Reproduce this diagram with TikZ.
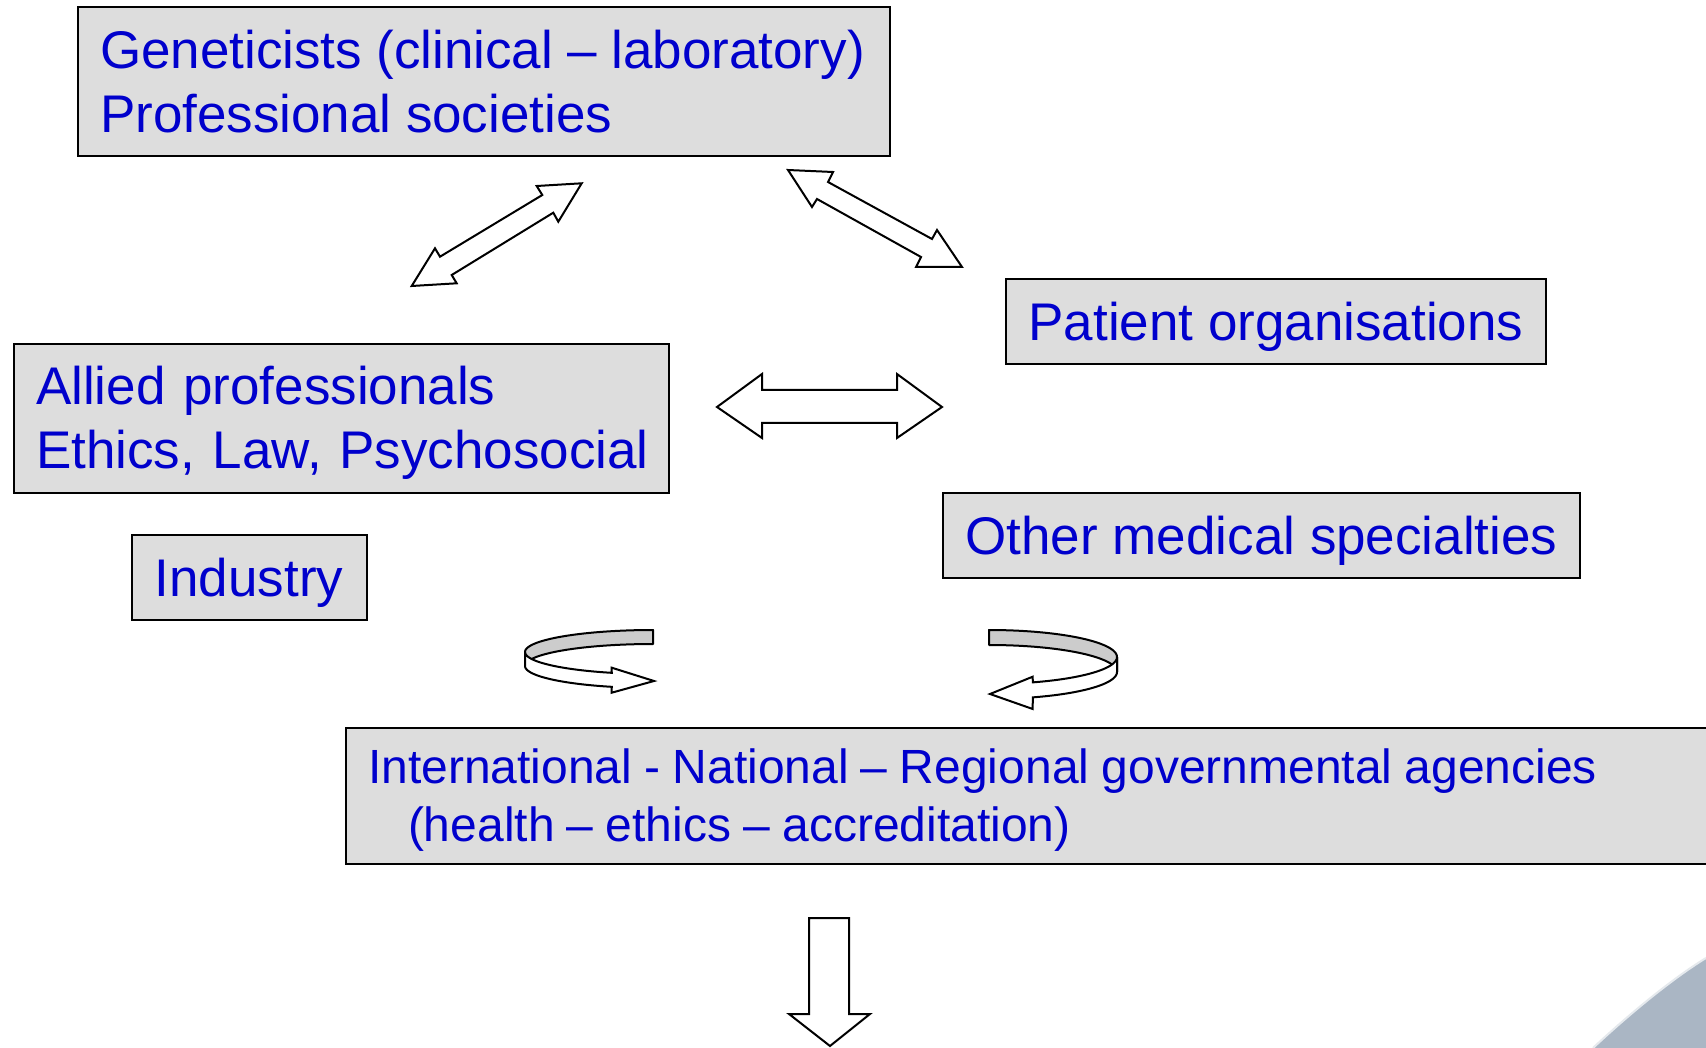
\documentclass[tikz,border=0pt]{standalone}
\usepackage{fontspec}
\setmainfont{Liberation Sans}
\definecolor{txtblue}{RGB}{0,0,204}
\definecolor{boxgray}{RGB}{221,221,221}
\definecolor{ribbongray}{RGB}{204,204,204}
\definecolor{cornerblue}{RGB}{170,182,196}
\newcommand{\bs}{\rule[-11pt]{0pt}{59pt}}
\newcommand{\ms}{\rule[-10pt]{0pt}{53.5pt}}
\begin{document}
\begin{tikzpicture}[x=1pt,y=-1pt,
  box/.style={draw=black, line width=2pt, fill=boxgray, text=txtblue, inner sep=0pt, anchor=north west},
  multi/.style={align=left},
  bigfont/.style={font=\fontsize{53}{64}\selectfont},
  midfont/.style={font=\fontsize{48}{58}\selectfont},
  blockarrow/.style={draw=black, line width=2pt, fill=white, line join=miter},
  ribbonback/.style={draw=black, line width=2pt, fill=ribbongray, line join=round},
  ribbonfront/.style={draw=black, line width=2pt, fill=white, line join=miter}
]
\useasboundingbox (0,0) rectangle (1706,1048);
\clip (0,0) rectangle (1706,1048);
\fill[white] (0,0) rectangle (1706,1048);
% corner decoration
\fill[cornerblue] (1593,1048) .. controls (1625,1018) and (1670,980) .. (1706,958) -- (1712,958) -- (1712,1054) -- (1593,1054) -- cycle;
\draw[white!70!cornerblue, line width=2pt] (1593,1048) .. controls (1625,1018) and (1670,980) .. (1706,958);

% boxes
\node[box, multi, bigfont, minimum width=812pt, minimum height=149pt, text width=768pt, inner xsep=22pt] (gen) at (77,6.5)
  {\spaceskip=0.98\fontdimen2\font\relax\mbox{\bs Geneticists (clinical – laboratory)}\\\mbox{\bs Professional societies}};
\node[box, multi, bigfont, minimum width=655pt, minimum height=149pt, text width=611pt, inner xsep=22pt] (allied) at (13,343)
  {\mbox{\bs Allied professionals}\\\mbox{\bs Ethics, Law, Psychosocial}};
\node[box, bigfont, minimum width=540pt, minimum height=85pt] (patient) at (1005,278.5) {\bs Patient organisations};
\node[box, bigfont, minimum width=637pt, minimum height=85pt] (other) at (942,492) {\bs Other medical specialties};
\node[box, bigfont, minimum width=235pt, minimum height=85pt] (industry) at (130.5,534) {\bs Industry};
\node[box, multi, midfont, minimum width=1370pt, minimum height=136pt, text width=1326pt, inner xsep=22pt] (agencies) at (345,727)
  {\spaceskip=0.92\fontdimen2\font\relax\mbox{\ms International - National – Regional governmental agencies}\\\mbox{\ms\hspace*{40pt}(health – ethics – accreditation)}};

% left diagonal double arrow
\draw[blockarrow] (581.7,183.3) -- (536.7,186) -- (542.3,195) -- (440,256.7) -- (435,248.3) -- (411.7,286)
  -- (456.7,283.3) -- (451.7,275) -- (553.3,212.7) -- (558.3,221.7) -- cycle;
% right diagonal double arrow
\draw[blockarrow] (788,170) -- (833,172) -- (828,182) -- (932,239) -- (937,230) -- (962,267)
  -- (916,267) -- (921,257) -- (817,199) -- (812,207) -- cycle;
% horizontal double arrow
\draw[blockarrow] (717,407) -- (762,374) -- (762,390) -- (897,390) -- (897,374) -- (942,407)
  -- (897,438) -- (897,423) -- (762,423) -- (762,438) -- cycle;
% down arrow
\draw[blockarrow] (809,918) -- (849,918) -- (849,1014) -- (870,1014) -- (830,1046) -- (789,1014) -- (809,1014) -- cycle;

% left circular ribbon arrow
\draw[ribbonback] plot[domain=270:180, samples=40, variable=\t] ({653+128*cos(\t)},{652+22*sin(\t)})
  -- plot[domain=180:270, samples=40, variable=\t] ({653+128*cos(\t)},{666+22*sin(\t)}) -- cycle;
\draw[ribbonfront] plot[domain=180:108.8, samples=40, variable=\t] ({653+128*cos(\t)},{652+22*sin(\t)})
  -- (611.7,667.7) -- (654,681) -- (611.7,692.7)
  -- plot[domain=108.8:180, samples=40, variable=\t] ({653+128*cos(\t)},{666+22*sin(\t)}) -- cycle;

% right circular ribbon arrow
\draw[ribbonback] plot[domain=270:360, samples=40, variable=\t] ({989+128*cos(\t)},{657+27*sin(\t)})
  -- plot[domain=360:270, samples=40, variable=\t] ({989+128*cos(\t)},{672+27*sin(\t)}) -- cycle;
\draw[ribbonfront] plot[domain=0:70, samples=40, variable=\t] ({989+128*cos(\t)},{657+27*sin(\t)})
  -- (1032.7,676.7) -- (990,694) -- (1032.7,709)
  -- plot[domain=70:0, samples=40, variable=\t] ({989+128*cos(\t)},{672+27*sin(\t)}) -- cycle;
\end{tikzpicture}
\end{document}
